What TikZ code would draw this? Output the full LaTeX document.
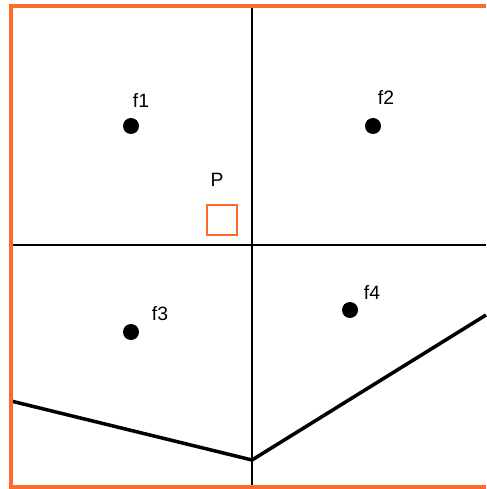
\documentclass[tikz,border=0pt]{standalone}
\usepackage{fontspec}
\setmainfont{Liberation Sans}
\usepackage{xcolor}
\usepackage{tikz}
\usetikzlibrary{positioning,calc}

\definecolor{frameorange}{RGB}{255,106,42}

\begin{document}
\begin{tikzpicture}[x=0.02cm, y=-0.02cm, font=\fontsize{11}{13}\selectfont]
    % Styles
    \tikzstyle{site} = [circle, fill=black, inner sep=0pt, minimum size=0.32cm]
    \tikzstyle{tag} = [inner sep=1pt]
    \tikzstyle{cell} = [draw, black, line width=1.1pt]
    \tikzstyle{cut} = [draw, black, line width=2pt]
    \tikzstyle{frame} = [draw, frameorange, line width=1.8pt]
    \tikzstyle{probe} = [draw=frameorange, line width=1.3pt, minimum size=0.6cm, inner sep=0pt]

    \useasboundingbox (0,0) rectangle (486,489);

    % Coordinates
    \coordinate (tl) at (11,6);
    \coordinate (tr) at (486,6);
    \coordinate (bl) at (11,487);
    \coordinate (br) at (486,487);
    \coordinate (vtop) at (252,6);
    \coordinate (vbot) at (252,487);
    \coordinate (hleft) at (11,245);
    \coordinate (hright) at (486,245);
    \coordinate (cutl) at (11,401);
    \coordinate (cutm) at (252,460);
    \coordinate (cutr) at (486,315);

    % Nodes
    \node [site] (f1) at (131,126) {};
    \node [site] (f2) at (373,126) {};
    \node [site] (f3) at (131,332) {};
    \node [site] (f4) at (350,310) {};
    \node [tag] (f1lab) at (141,101) {f1};
    \node [tag] (f2lab) at (386,98) {f2};
    \node [tag] (f3lab) at (160,314) {f3};
    \node [tag] (f4lab) at (372,293) {f4};
    \node [probe] (p) at (222,220) {};
    \node [tag, above=0.3cm of p, xshift=-0.1cm] (plab) {P};

    % Lines
    \path [cell] (vtop) -- (vbot);
    \path [cell] (hleft) -- (hright);
    \path [cut] (cutl) -- (cutm) -- (cutr);
    \path [frame] (tr) -- (tl) -- (bl) -- (br);
\end{tikzpicture}
\end{document}
